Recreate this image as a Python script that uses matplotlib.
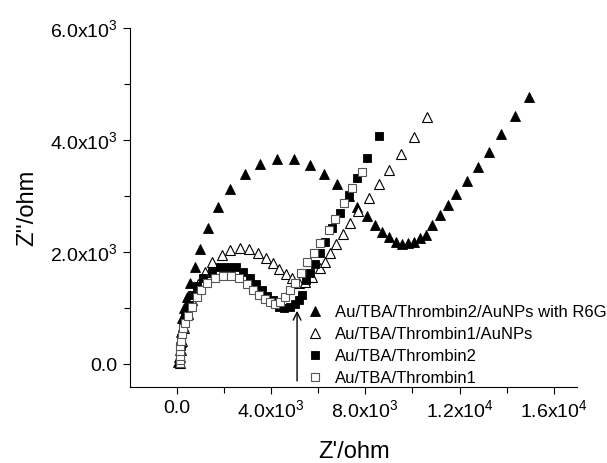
import matplotlib
matplotlib.use('Agg')
import matplotlib.pyplot as plt

plt.rcParams['font.family'] = ['Liberation Sans', 'DejaVu Sans']
plt.rcParams['mathtext.fontset'] = 'custom'
plt.rcParams['mathtext.rm'] = 'Liberation Sans'
plt.rcParams['mathtext.it'] = 'Liberation Sans'

# Au/TBA/Thrombin2/AuNPs with R6G (filled triangles)
r6g_x = [60, 90, 120, 150, 180, 230, 310, 410, 550, 760, 980, 1330, 1730, 2255, 2890,
         3530, 4240, 4950, 5630, 6255, 6795, 7290, 7645, 8070, 8400, 8720, 9020, 9290,
         9560, 9800, 10055, 10300, 10565, 10850, 11160, 11500, 11870, 12300, 12780,
         13260, 13770, 14350, 14935]
r6g_y = [30, 120, 250, 400, 580, 820, 1000, 1190, 1440, 1740, 2060, 2420, 2800, 3120, 3400,
         3570, 3655, 3655, 3555, 3390, 3210, 2990, 2810, 2640, 2490, 2360, 2260, 2185,
         2145, 2165, 2185, 2250, 2300, 2490, 2660, 2830, 3040, 3260, 3510,
         3775, 4100, 4430, 4760]

# Au/TBA/Thrombin1/AuNPs (open triangles)
np1_x = [110, 130, 160, 210, 300, 450, 650, 880, 1191, 1500, 1910, 2270, 2680, 3077,
         3434, 3774, 4060, 4330, 4610, 4900, 5200, 5450, 5730, 6055, 6268, 6510, 6765,
         7050, 7361, 7700, 8141, 8566, 9007, 9518, 10055, 10638]
np1_y = [20, 120, 260, 420, 650, 900, 1150, 1420, 1649, 1820, 1947, 2036, 2066, 2048,
         1977, 1899, 1798, 1700, 1605, 1530, 1440, 1470, 1560, 1709, 1828, 1977, 2143,
         2321, 2512, 2730, 2970, 3209, 3465, 3745, 4049, 4406]

# Au/TBA/Thrombin2 (filled squares)
th2_x = [120, 130, 140, 160, 190, 250, 350, 500, 650, 838, 1120, 1476, 1830, 2184, 2510,
         2822, 3106, 3361, 3603, 3843, 4098, 4312, 4553, 4808, 5021, 5163, 5306, 5489,
         5660, 5843, 6055, 6297, 6582, 6906, 7290, 7660, 8085, 8566]
th2_y = [20, 100, 200, 320, 460, 640, 840, 1050, 1230, 1387, 1530, 1649, 1727, 1738, 1727,
         1649, 1530, 1423, 1322, 1220, 1143, 1024, 994, 1024, 1072, 1143, 1232, 1500,
         1620, 1780, 1977, 2184, 2422, 2690, 3018, 3316, 3673, 4061]

# Au/TBA/Thrombin1 (open squares)
th1_x = [128, 128, 130, 135, 145, 165, 200, 260, 340, 455, 620, 838, 1000, 1263, 1617,
         1970, 2298, 2652, 2965, 3247, 3502, 3745, 3970, 4170, 4385, 4595, 4808, 5000,
         5250, 5518, 5800, 6085, 6440, 6723, 7077, 7433, 7870]
th1_y = [20, 80, 150, 230, 320, 420, 530, 640, 737, 860, 1020, 1202, 1320, 1441, 1543,
         1578, 1572, 1530, 1423, 1322, 1232, 1161, 1110, 1072, 1113, 1202, 1330, 1440,
         1630, 1816, 1990, 2167, 2393, 2590, 2869, 3137, 3435]

labels = ['Au/TBA/Thrombin2/AuNPs with R6G', 'Au/TBA/Thrombin1/AuNPs',
          'Au/TBA/Thrombin2', 'Au/TBA/Thrombin1']

xticks = [0, 4000, 8000, 12000, 16000]
xtick_labels = ['0.0', r'4.0x10$^3$', r'8.0x10$^3$', r'1.2x10$^4$', r'1.6x10$^4$']
yticks = [0, 2000, 4000, 6000]
ytick_labels = ['0.0', r'2.0x10$^3$', r'4.0x10$^3$', r'6.0x10$^3$']

fig = plt.figure(figsize=(6.07, 4.63), dpi=100)
ax = fig.add_axes([0.214, 0.164, 0.737, 0.776])

ax.plot(r6g_x, r6g_y, '^', color='black', ms=7.5, mec='black', mew=0.6, label=labels[0])
ax.plot(np1_x, np1_y, '^', color='white', ms=7.5, mec='black', mew=0.8, label=labels[1])
ax.plot(th2_x, th2_y, 's', color='black', ms=5.5, mec='black', mew=0.6, label=labels[2])
ax.plot(th1_x, th1_y, 's', color='white', ms=5.5, mec='#555555', mew=0.8, label=labels[3])

# arrow pointing at the minimum
ax.annotate('', xy=(5100, 1000), xytext=(5100, -350),
            arrowprops=dict(arrowstyle='->', color='black', lw=1, mutation_scale=14))

ax.set_xlim(-2000, 17000)
ax.set_ylim(-410, 6000)
ax.set_xticks(xticks)
ax.set_xticklabels(xtick_labels)
ax.set_yticks(yticks)
ax.set_yticklabels(ytick_labels)
ax.set_xticks([2000, 6000, 10000, 14000], minor=True)
ax.set_yticks([1000, 3000, 5000], minor=True)
ax.tick_params(which='major', direction='out', length=5, width=0.8, labelsize=14, pad=4)
ax.tick_params(which='minor', direction='out', length=4, width=0.8)

for s in ['top', 'right']:
    ax.spines[s].set_visible(False)
for s in ['left', 'bottom']:
    ax.spines[s].set_linewidth(0.8)

ax.set_xlabel("Z'/ohm", fontsize=17, labelpad=14)
ax.set_ylabel("Z''/ohm", fontsize=17, labelpad=8)

ax.legend(loc='lower left', bbox_to_anchor=(0.37, -0.025), frameon=False, fontsize=12,
          handletextpad=0.6, labelspacing=0.42, borderaxespad=0.2, handlelength=1.2)

plt.savefig('out.png', dpi=100)
plt.close()
